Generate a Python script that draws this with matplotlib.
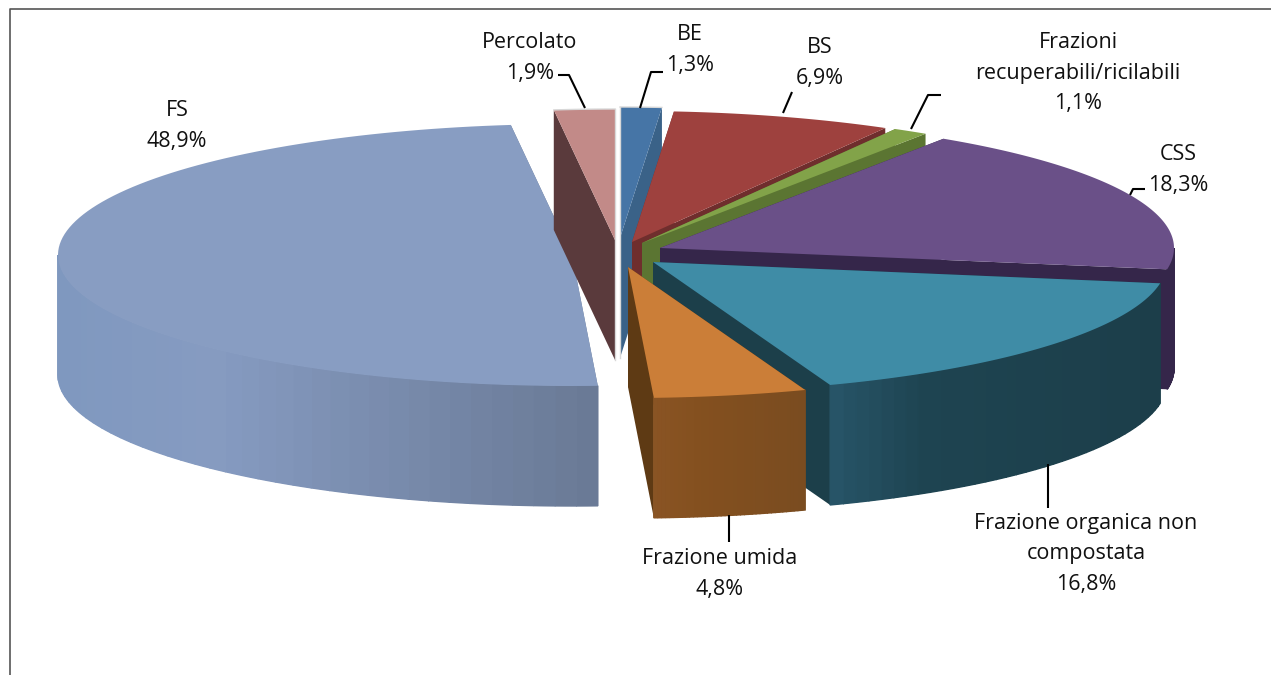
import numpy as np
import matplotlib
matplotlib.use("Agg")
import matplotlib.pyplot as plt
from matplotlib.colors import to_rgb
from matplotlib.patches import Polygon

plt.rcParams["font.family"] = "Open Sans"

# Data, clockwise from 12 o'clock
names = ["BE", "BS", "Frazioni\nrecuperabili/ricilabili", "CSS",
         "Frazione organica non\ncompostata", "Frazione umida", "FS", "Percolato"]
values = [1.3, 6.9, 1.1, 18.3, 16.8, 4.8, 48.9, 1.9]

# Pie projection in pixels
center_x, center_y = 625, 250
rx, ry = 514, 131
depth = 120

# Explosion of each slice in pixels
explode_x = [-5, 7, 17, 35, 28, 3, -53, -10]
explode_y = [-12, -8, -7, -2, 12, 17, 5, -10]

top_colors = ["#4675a6", "#9e413e", "#82a349", "#6a5088", "#3f8ca6", "#cb7e38", "#889dc2", "#c28a88"]
face_colors = ["#3a6288", "#6f2e2d", "#5b7532", "#35264a", "#1c3f4a", "#5e3a14", "#6a7a94", "#5a3a3c"]
# wall shading: left edge, about a third of the way across, right edge
wall_left = ["#3f6f9f", "#6f2e2d", "#5b7532", "#35264a", "#28566a", "#8a5424", "#7f98bf", "#5a3a3c"]
wall_mid = ["#3f6f9f", "#6f2e2d", "#5b7532", "#35264a", "#1e4451", "#84501f", "#869bc1", "#5a3a3c"]
wall_right = ["#3f6f9f", "#6f2e2d", "#5b7532", "#35264a", "#1c3e4a", "#7a4c20", "#6a7a96", "#5a3a3c"]

# Label centres and leader lines
label_x = [690, 820, 1078, 1178, 1086, 720, 177, 530]
label_y = [50, 63, 73, 170, 554, 574, 126, 58]
leader_x = [[663, 651, 640], [792, 783], [941, 928, 911], [1145, 1133, 1130], [1048, 1048], [729, 729], [], [558, 569, 585]]
leader_y = [[72, 72, 108], [92, 113], [95, 95, 129], [189, 189, 195], [464, 508], [515, 542], [], [75, 75, 108]]


def arc(theta, tx, ty, drop=0):
    return np.column_stack([tx + rx * np.sin(theta), ty - ry * np.cos(theta) + drop])


fig = plt.figure(figsize=(12.71, 6.75), dpi=100)
ax = fig.add_axes([0, 0, 1, 1])
ax.set_xlim(0, 1271)
ax.set_ylim(675, 0)
ax.axis("off")

# frame, only top and left
ax.plot([9.5, 9.5, 1271], [675, 9, 9], color="#555555", lw=1.2)

bounds = np.radians(np.concatenate([[0], np.cumsum(values)]) * 3.6)

# back slices first, FS last so it covers the Percolato face
for i in [0, 7, 1, 2, 3, 4, 5, 6]:
    a, b = bounds[i], bounds[i + 1]
    tx, ty = center_x + explode_x[i], center_y + explode_y[i]

    # radial faces
    for t in (a, b):
        p = arc(np.array([t]), tx, ty)[0]
        ax.add_patch(Polygon([(tx, ty), p, (p[0], p[1] + depth), (tx, ty + depth)],
                             fc=face_colors[i], ec="none", zorder=i + 2))

    # outer wall only on the front half
    lo, hi = max(a, np.pi / 2), min(b, 3 * np.pi / 2)
    if hi > lo:
        steps = np.linspace(lo, hi, 40)
        stops = np.array([to_rgb(wall_left[i]), to_rgb(wall_mid[i]), to_rgb(wall_right[i])])
        xs = arc(steps, tx, ty)[:, 0]
        ax.add_patch(Polygon(np.vstack([arc(steps, tx, ty), arc(steps[::-1], tx, ty, depth)]),
                             fc=stops[1], ec="none", zorder=i + 2))
        for s0, s1, x0 in zip(steps[:-1], steps[1:], xs[:-1]):
            f = (x0 - xs.min()) / max(xs.max() - xs.min(), 1)
            col = [np.interp(f, [0, 0.3, 1], stops[:, k]) for k in range(3)]
            seg = np.linspace(s0, s1, 3)
            ax.add_patch(Polygon(np.vstack([arc(seg, tx, ty), arc(seg[::-1], tx, ty, depth)]),
                                 fc=col, ec=col, lw=1.0, zorder=i + 2))

    # top surface
    tt = np.linspace(a, b, 120)
    ax.add_patch(Polygon(np.vstack([[tx, ty], arc(tt, tx, ty)]),
                         fc=top_colors[i], ec="none", zorder=i + 2))

    # pale rim on the two slices next to the gap at the top
    if i in (0, 7):
        edge = a if i == 0 else b
        p = arc(np.array([edge]), tx, ty)[0]
        rim = arc(tt, tx, ty)
        ax.plot([tx, p[0]], [ty + depth, p[1]], color="#d8d8d8", lw=1, zorder=i + 2)
        ax.plot(rim[:, 0], rim[:, 1], color="#d8d8d8", lw=1, zorder=i + 2)

for lx, ly in zip(leader_x, leader_y):
    if lx:
        ax.plot(lx, ly, color="black", lw=1.5, zorder=20, solid_capstyle="butt")

for name, val, x, y in zip(names, values, label_x, label_y):
    txt = name + "\n" + f"{val:.1f}%".replace(".", ",")
    ax.text(x, y, txt, ha="center", va="center", fontsize=15.5, color="#111111",
            linespacing=1.58, zorder=21)

fig.savefig("out.png", dpi=100)
